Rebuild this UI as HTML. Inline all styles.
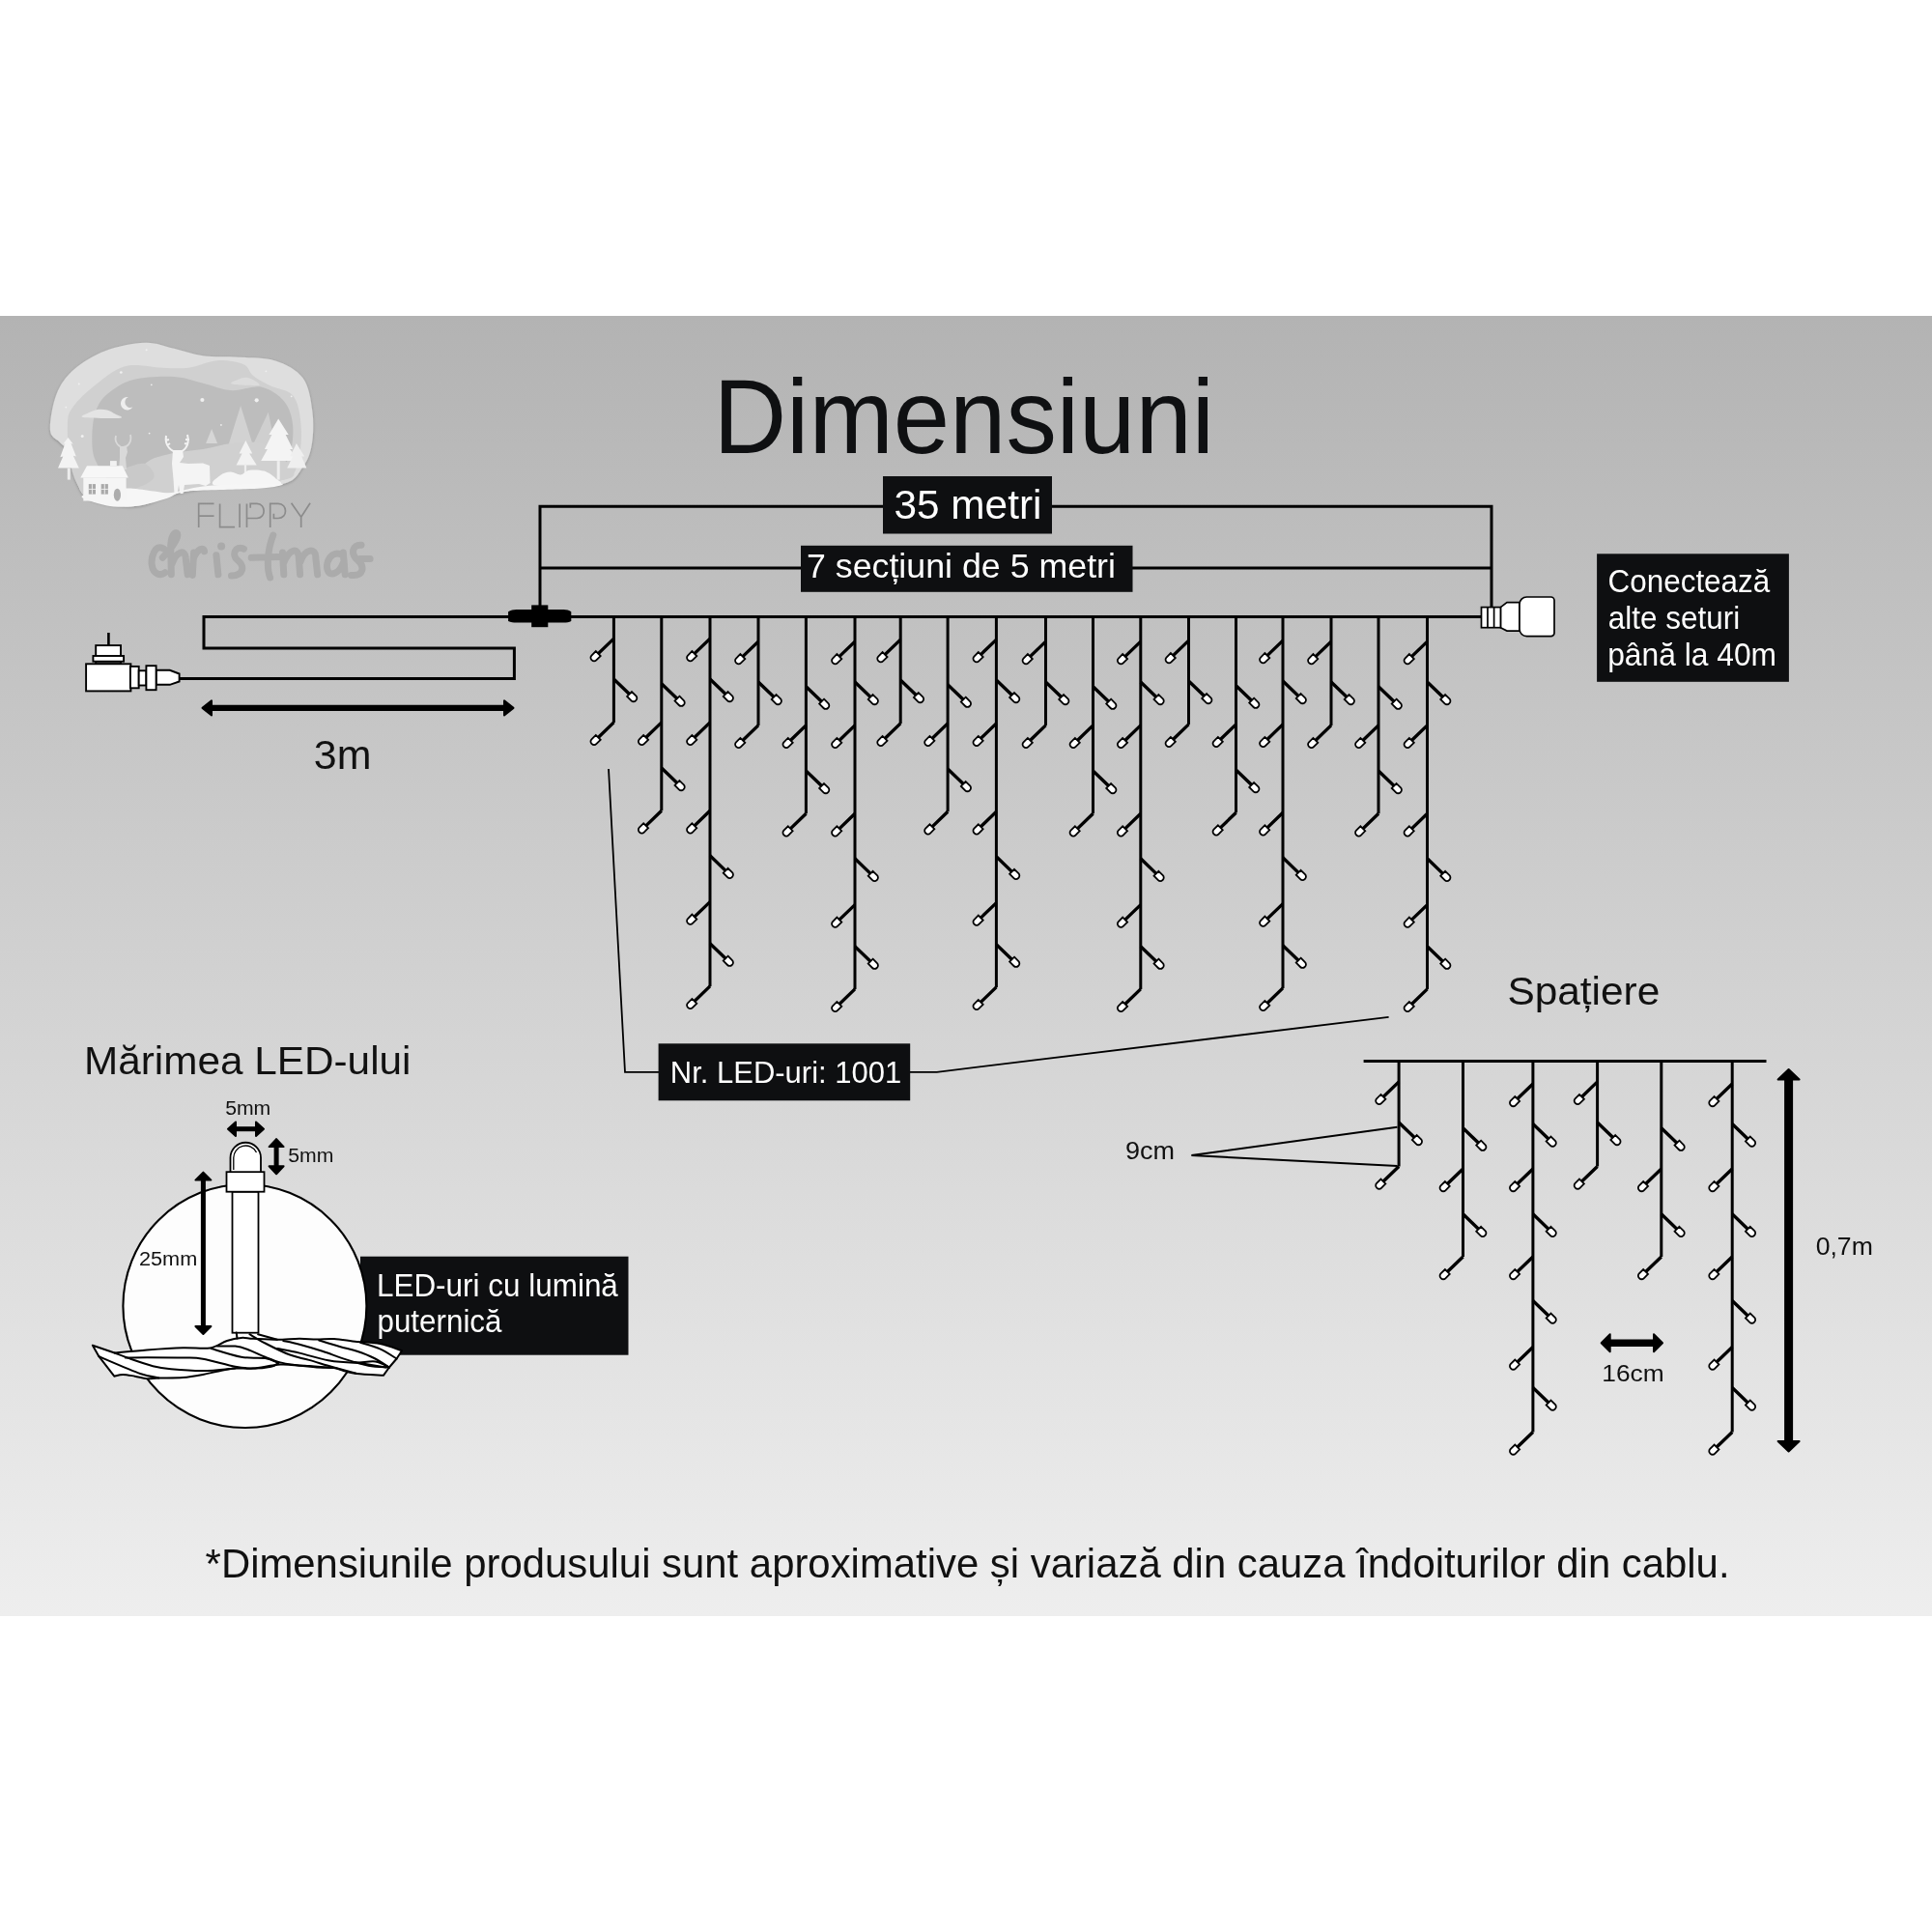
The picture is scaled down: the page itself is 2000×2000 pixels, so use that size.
<!DOCTYPE html>
<html><head><meta charset="utf-8"><style>
html,body{margin:0;padding:0;background:#fff;}
svg{display:block;will-change:transform;}
text{font-family:"Liberation Sans",sans-serif;}
</style></head><body>
<svg width="2000" height="2000" viewBox="0 0 2000 2000">
<rect x="0" y="0" width="2000" height="2000" fill="#fff"/>
<defs><linearGradient id="bg" x1="0" y1="0" x2="0" y2="1"><stop offset="0" stop-color="#b3b3b3"/><stop offset="0.5" stop-color="#d1d1d1"/><stop offset="1" stop-color="#eeeeee"/></linearGradient><filter id="lsh" x="-10%" y="-10%" width="120%" height="120%"><feDropShadow dx="0" dy="1" stdDeviation="1.5" flood-color="#000" flood-opacity="0.25"/></filter></defs>
<rect x="0" y="327" width="2000" height="1346" fill="url(#bg)"/>
<g filter="url(#lsh)">
<path d="M51.9,445.0 C51.4,436.7 54.4,418.5 58.5,408.0 C62.6,397.6 68.0,390.0 76.5,382.5 C85.0,375.0 97.3,367.6 109.5,363.0 C121.8,358.4 138.3,355.1 150.1,354.8 C161.8,354.4 170.1,358.5 180.1,360.8 C190.1,363.0 198.9,366.8 210.1,368.3 C221.4,369.8 235.1,368.9 247.6,369.8 C260.2,370.6 274.2,369.9 285.2,373.5 C296.2,377.1 307.3,382.8 313.7,391.5 C320.1,400.3 321.9,414.5 323.4,426.1 C324.9,437.6 324.3,451.1 322.7,460.6 C321.1,470.1 318.7,476.3 313.7,483.1 C308.7,489.9 307.4,497.6 292.7,501.1 C277.9,504.6 243.9,502.4 225.1,504.1 C206.4,505.9 193.1,508.5 180.1,511.6 C167.1,514.7 157.6,521.0 147.1,522.9 C136.6,524.8 126.6,524.3 117.1,523.0 C107.5,521.7 96.2,518.7 90.0,515.1 C83.9,511.4 82.5,506.0 80.0,501.0 C77.5,496.0 76.5,490.7 75.0,485.0 C73.5,479.4 73.2,471.6 71.0,467.0 C68.7,462.5 64.7,461.3 61.5,457.6 C58.3,453.9 52.4,453.2 51.9,445.0 Z" fill="#dedede" />
<path d="M69.9,440.0 C70.3,431.4 70.2,429.4 74.3,423.1 C78.4,416.7 85.4,409.3 94.5,402.0 C103.7,394.7 116.8,382.8 129.1,379.2 C141.3,375.7 157.1,380.5 168.1,380.7 C179.1,381.0 185.6,382.0 195.1,380.7 C204.6,379.5 215.6,373.8 225.1,373.2 C234.6,372.6 246.0,374.7 252.1,377.3 C258.3,379.9 257.4,385.2 261.9,388.8 C266.4,392.5 272.3,395.6 279.2,399.0 C286.0,402.5 297.8,403.0 303.2,409.5 C308.6,416.0 310.4,427.3 311.4,438.1 C312.4,448.8 312.1,464.3 309.2,474.1 C306.3,483.8 308.2,491.9 294.2,496.6 C280.2,501.4 244.6,500.4 225.1,502.6 C205.6,504.9 192.1,508.4 177.1,510.1 C162.1,511.9 148.7,512.0 135.1,513.1 C121.4,514.3 104.2,519.0 95.0,517.0 C85.8,515.0 83.8,508.0 80.0,501.0 C76.1,494.0 73.7,485.1 72.0,475.0 C70.3,464.8 69.5,448.7 69.9,440.0 Z" fill="#d0d0d0" />
<path d="M95.3,453.1 C95.3,444.6 96.4,433.6 99.0,426.1 C101.7,418.6 104.5,413.5 111.0,408.0 C117.6,402.5 126.6,396.0 138.1,393.0 C149.6,390.0 168.1,389.4 180.1,390.0 C192.1,390.7 200.1,394.4 210.1,396.8 C220.1,399.2 230.1,403.7 240.1,404.3 C250.1,404.9 261.2,398.7 270.2,400.5 C279.2,402.4 288.7,408.8 294.2,415.5 C299.7,422.3 302.4,431.3 303.2,441.1 C303.9,450.8 302.7,465.1 298.7,474.1 C294.7,483.1 292.7,490.6 279.2,495.1 C265.7,499.6 236.6,499.6 217.6,501.1 C198.6,502.6 181.8,504.6 165.1,504.1 C148.3,503.6 128.1,502.6 117.1,498.1 C106.0,493.6 102.7,484.6 99.0,477.1 C95.4,469.6 95.3,461.6 95.3,453.1 Z" fill="#bdbdbd" />
</g>
<path d="M86.3,432.1 C81.0,431.1 90.4,428.2 93.0,426.8 C95.7,425.4 99.0,424.2 102.0,423.8 C105.0,423.4 108.3,423.8 111.0,424.6 C113.8,425.3 116.3,426.9 118.6,428.3 C120.8,429.7 129.9,432.2 124.6,432.8 C119.2,433.4 91.5,433.1 86.3,432.1 Z" fill="#e4e4e4" />
<path d="M240.1,397.5 C236.6,396.5 243.6,394.2 246.1,393.0 C248.6,391.9 252.1,390.5 255.1,390.8 C258.1,391.0 262.2,393.2 264.2,394.5 C266.2,395.9 271.2,398.5 267.2,399.0 C263.2,399.5 243.6,398.5 240.1,397.5 Z" fill="#dcdcdc" />
<path d="M132.8,411.0 A6.8,6.8 0 1 0 137.3,421.6 A5.7,5.7 0 1 1 132.8,411.0 Z" fill="#eeeeee"/>
<polygon points="235.6,463.6 249.1,420.1 262.7,463.6" fill="#d2d2d2" />
<polygon points="261.2,462.1 277.7,426.8 285.2,462.1" fill="#cfcfcf" />
<polygon points="213.1,459.1 219.1,444.1 225.1,459.1" fill="#d6d6d6" />
<path d="M129.1,510.1 C124.6,505.1 142.1,486.8 150.1,480.1 C158.1,473.3 167.1,472.1 177.1,469.6 C187.1,467.1 199.6,466.8 210.1,465.1 C220.6,463.3 230.1,460.1 240.1,459.1 C250.1,458.1 261.4,456.6 270.2,459.1 C278.9,461.6 287.7,468.1 292.7,474.1 C297.7,480.1 311.4,490.4 300.2,495.1 C288.9,499.9 245.6,500.1 225.1,502.6 C204.6,505.1 193.1,508.9 177.1,510.1 C161.1,511.4 133.6,515.1 129.1,510.1 Z" fill="#d0d0d0" />
<path d="M112.5,489.1 C114.8,485.8 122.8,486.1 129.1,484.6 C135.3,483.1 145.1,478.3 150.1,480.1 C155.1,481.8 161.6,490.6 159.1,495.1 C156.6,499.6 142.3,505.6 135.1,507.1 C127.8,508.6 119.3,507.1 115.5,504.1 C111.8,501.1 110.3,492.4 112.5,489.1 Z" fill="#c9c9c9" />
<path d="M120,451 C118,459 124,463 127.5,463 C131,463 137,459 135,450" fill="none" stroke="#d9d9d9" stroke-width="1.8"/>
<polygon points="124,462 131,462 132,468 130,474 131,486 123,486 124,474" fill="#d9d9d9"/>
<polygon points="60.0,484.6 65.3,472.6 62.3,473.3 67.5,459.1 65.3,459.8 70.5,453.1 75.8,459.8 73.5,459.1 78.8,472.6 75.8,471.8 81.8,484.6" fill="#f3f3f3" />
<polygon points="69.8,484.6 72.8,484.6 72.8,496.6 69.8,496.6" fill="#ececec" />
<polygon points="270.2,477.1 276.9,465.1 273.9,465.1 281.4,450.1 278.4,450.1 288.2,433.6 298.7,450.1 295.7,450.1 303.2,465.1 300.2,465.1 309.2,477.1" fill="#f4f4f4" />
<polygon points="244.6,481.6 250.6,469.6 247.6,469.6 254.4,456.1 261.2,469.6 258.1,469.6 265.7,481.6" fill="#f2f2f2" />
<polygon points="297.2,484.6 303.2,472.6 300.2,472.6 306.9,459.1 315.2,472.6 312.2,472.6 317.4,484.6" fill="#efefef" />
<polygon points="286.7,477.1 289.7,477.1 289.7,496.6 286.7,496.6" fill="#eeeeee" />
<polygon points="252.9,480.1 255.1,480.1 255.1,495.1 252.9,495.1" fill="#eeeeee" />
<path d="M223.6,502.6 C213.9,500.9 225.6,494.5 228.1,492.1 C230.6,489.7 235.1,488.5 238.6,488.4 C242.1,488.2 245.9,491.6 249.1,491.4 C252.4,491.1 254.1,487.5 258.1,486.8 C262.2,486.2 268.7,486.2 273.2,487.6 C277.7,489.0 282.9,492.6 285.2,495.1 C287.4,497.6 296.9,501.4 286.7,502.6 C276.4,503.9 233.4,504.4 223.6,502.6 Z" fill="#f5f5f5" />
<path d="M172,451 C170,462 178,468 184,468 C190,468 197,462 194,450 M171,456 L175,455 M196,455 L192,455 M173,461 L176,459 M195,460 L191,459" fill="none" stroke="#f3f3f3" stroke-width="2"/>
<polygon points="179,466 189,466 190,473 186,479 195,480 210,479.5 217,482 217.5,500 213,503 206,501 191,502 189.5,511 186.5,511 185,502 183.5,511 180.5,511 179.5,496 178,480" fill="#f4f4f4"/>
<path d="M85.5,513.1 C89.3,511.1 108.8,508.4 117.1,507.1 C125.3,505.9 128.1,505.4 135.1,505.6 C142.1,505.9 152.1,507.9 159.1,508.6 C166.1,509.4 168.6,511.0 177.1,510.1 C185.6,509.2 195.9,504.9 210.1,503.4 C224.4,501.9 248.9,501.5 262.7,501.1 C276.4,500.7 291.4,500.4 292.7,501.1 C293.9,501.9 286.4,504.4 270.2,505.6 C253.9,506.9 211.4,506.9 195.1,508.6 C178.8,510.4 181.1,513.6 172.6,516.1 C164.1,518.6 153.3,522.2 144.1,523.6 C134.8,525.0 125.3,525.1 117.1,524.4 C108.8,523.6 99.8,521.0 94.5,519.1 C89.3,517.2 81.8,515.1 85.5,513.1 Z" fill="#f6f6f6" />
<polygon points="83.3,494.4 90.0,482.3 126.8,482.3 132.8,494.4" fill="#f7f7f7" />
<polygon points="86.3,494.4 130.6,494.4 130.6,518.4 86.3,518.4" fill="#f5f5f5" />
<polygon points="114.0,477.1 120.8,477.1 120.8,482.3 114.0,482.3" fill="#f2f2f2" />
<polygon points="91.8,501.1 99.0,501.1 99.0,511.6 91.8,511.6" fill="#a9a9a9" />
<path d="M95.4,501.1 V511.6 M91.8,506.4 H99.0" stroke="#f3f3f3" stroke-width="0.9"/>
<polygon points="104.7,501.1 111.9,501.1 111.9,511.6 104.7,511.6" fill="#a9a9a9" />
<path d="M108.3,501.1 V511.6 M104.7,506.4 H111.9" stroke="#f3f3f3" stroke-width="0.9"/>
<ellipse cx="121.4" cy="512.2" rx="3.6" ry="6.5" fill="#acacac"/>
<circle cx="151.6" cy="362.3" r="1.05" fill="#f0f0f0"/>
<circle cx="125.3" cy="385.5" r="1.35" fill="#f0f0f0"/>
<circle cx="81.8" cy="397.5" r="0.90" fill="#f0f0f0"/>
<circle cx="156.8" cy="398.3" r="0.90" fill="#f0f0f0"/>
<circle cx="68.3" cy="421.6" r="0.90" fill="#f0f0f0"/>
<circle cx="209.4" cy="414.0" r="2.10" fill="#f0f0f0"/>
<circle cx="265.7" cy="414.3" r="2.10" fill="#f0f0f0"/>
<circle cx="275.4" cy="384.3" r="0.90" fill="#f0f0f0"/>
<circle cx="301.7" cy="410.3" r="0.90" fill="#f0f0f0"/>
<circle cx="228.9" cy="439.9" r="0.90" fill="#f0f0f0"/>
<circle cx="154.6" cy="448.6" r="0.90" fill="#f0f0f0"/>
<circle cx="85.2" cy="451.6" r="1.50" fill="#f0f0f0"/>
<path d="M169.6,568.2 C160.5,561.8 156.0,577.3 157.3,585.1 C158.6,594.1 165.7,596.7 170.9,592.8 M168.3,577.3 C174.8,570.8 183.8,559.2 183.8,554.0 C183.8,548.8 177.3,551.4 176.7,564.3 L177.3,594.8 M178.0,583.8 C182.5,570.8 191.6,568.2 192.2,577.3 L194.2,594.8 M200.6,572.1 L199.3,595.4 M200.6,577.3 C204.5,568.2 211.0,565.6 211.6,570.8 M223.9,574.7 L225.9,594.8 M252.4,568.2 C243.3,564.3 239.5,574.7 245.9,579.9 C253.7,586.3 252.4,595.4 239.5,596.1 M282.8,554.0 C277.0,568.2 275.7,587.6 279.6,598.0 M260.2,577.3 L288.6,576.6 M292.5,572.1 L293.8,594.8 M293.8,582.5 C300.3,566.9 309.3,566.9 309.3,577.3 L310.6,594.8 M310.6,582.5 C315.8,566.9 327.5,566.9 326.8,577.3 L328.7,594.8 M354.6,574.7 C343.0,568.2 336.5,582.5 339.1,590.2 C341.7,598.0 352.0,592.8 355.3,582.5 M355.3,572.1 L357.2,594.8 M374.0,564.3 C365.0,563.1 362.4,573.4 370.2,579.9 C377.9,586.3 376.6,596.7 363.7,595.4 M372.7,578.6 L383.1,578.6" fill="none" stroke="#ababab" stroke-width="7" stroke-linecap="round" stroke-linejoin="round"/><circle cx="229.1" cy="565.6" r="4" fill="#aaaaaa"/><path d="M205.7,546 V521.4 H221.5 M205.7,534.2 H221.5 M227.6,521.4 V545.6 H243.1 M248.1,521.4 V546 M255.5,546 V521.4 M259.2,525.8 V521.4 H266 C275.5,521.4 275.5,536.5 266,536.5 H255.5 M279.7,546 V521.4 H288 C298,521.4 298,536.5 288,536.5 H283.4 V531.8 M301.6,520.7 L311.7,535.2 L321.1,520.7 M311.7,535.2 V546" fill="none" stroke="#8c8c8c" stroke-width="1.7"/>
<text transform="translate(747.00,468.80) scale(0.9594,1)" x="-8.97" y="0" font-size="109.30" fill="#0f1012">Dimensiuni</text>
<path d="M559,638 V524.3 H1544 V638" fill="none" stroke="#000" stroke-width="3" />
<path d="M559,588 H1544" fill="none" stroke="#000" stroke-width="3" />
<rect x="914" y="493" width="175" height="59.5" fill="#0e0f11"/>
<text transform="translate(927.10,536.80) scale(1.0116,1)" x="-1.59" y="0" font-size="41.86" fill="#fff">35 metri</text>
<rect x="829" y="564.8" width="343.5" height="48" fill="#0e0f11"/>
<text transform="translate(836.80,598.30) scale(1.0126,1)" x="-1.81" y="0" font-size="35.32" fill="#fff">7 secțiuni de 5 metri</text>
<path d="M185,702.5 H532.4 V671 H211 V638.5 H1535" fill="none" stroke="#000" stroke-width="3" stroke-linejoin="miter"/>
<path d="M526.1,633.2 C529,632 531,631.1 534.8,631.1 H583.2 C587,631.1 589,632 591.3,633.2 V642.9 C589,644 587,644.4 583.2,644.4 H534.8 C531,644.4 529,644 526.1,642.9 Z" fill="#000" stroke="none" stroke-width="0" />
<rect x="550.2" y="626.4" width="17.1" height="22.8" fill="#000"/>
<g fill="#fff" stroke="#000" stroke-width="1.7"><path d="M1553.4,628.6 L1560,623.6 H1573 V653.1 H1560 L1553.4,649.7 Z"/><path d="M1580.5,618 H1605.5 A3.5,3.5 0 0 1 1609,621.5 V655.2 A3.5,3.5 0 0 1 1605.5,658.7 H1580.5 A7.5,7.5 0 0 1 1573,651.2 V625.5 A7.5,7.5 0 0 1 1580.5,618 Z"/><rect x="1533.5" y="628.6" width="19.9" height="21.1"/><path d="M1540,628.6 V649.7 M1546.6,628.6 V649.7"/></g>
<g fill="#fff" stroke="#000" stroke-width="1.9"><path d="M112.4,655 V668" stroke-width="2.6"/><rect x="99.2" y="668.1" width="25.8" height="11.9"/><rect x="99.2" y="684.7" width="25.8" height="2.6"/><rect x="96.4" y="679" width="31.7" height="5.7"/><rect x="89.1" y="687.3" width="46.3" height="28.1"/><rect x="134.9" y="689.9" width="8.8" height="22.4"/><rect x="143.7" y="694.3" width="7.7" height="15.2"/><path d="M161.6,693.8 H175.8 L185.6,697.5 V705.5 L175.8,708.8 H161.6 Z"/><rect x="151.4" y="689.2" width="10.2" height="25"/></g>
<path d="M218.0,732.9 H523.0" fill="none" stroke="#000" stroke-width="6.2" />
<path d="M531.5,732.9 L522.0,725.4 L522.0,740.4 Z" fill="#000" stroke="#000" stroke-width="2" stroke-linejoin="round"/>
<path d="M209.5,732.9 L219.0,725.4 L219.0,740.4 Z" fill="#000" stroke="#000" stroke-width="2" stroke-linejoin="round"/>
<text transform="translate(326.40,795.90) scale(1.0120,1)" x="-1.62" y="0" font-size="42.44" fill="#111">3m</text>
<path d="M1411.6,1098.5 H1828.5" fill="none" stroke="#000" stroke-width="2.8" />
<path d="M635.40,747.90 L615.90,766.70 M635.40,661.10 L615.90,679.90 M635.40,703.00 L654.90,721.80 M684.80,839.30 L665.30,858.10 M684.80,707.70 L704.30,726.50 M684.80,747.90 L665.30,766.70 M684.80,795.00 L704.30,813.80 M735.00,1020.90 L715.50,1039.70 M735.00,661.10 L715.50,679.90 M735.00,703.00 L754.50,721.80 M735.00,747.90 L715.50,766.70 M735.00,839.30 L715.50,858.10 M735.00,885.80 L754.50,904.60 M735.00,933.60 L715.50,952.40 M735.00,976.70 L754.50,995.50 M785.00,750.90 L765.50,769.70 M785.00,664.10 L765.50,682.90 M785.00,706.00 L804.50,724.80 M834.40,842.30 L814.90,861.10 M834.40,710.70 L853.90,729.50 M834.40,750.90 L814.90,769.70 M834.40,798.00 L853.90,816.80 M885.00,1023.90 L865.50,1042.70 M885.00,664.10 L865.50,682.90 M885.00,706.00 L904.50,724.80 M885.00,750.90 L865.50,769.70 M885.00,842.30 L865.50,861.10 M885.00,888.80 L904.50,907.60 M885.00,936.60 L865.50,955.40 M885.00,979.70 L904.50,998.50 M932.20,748.90 L912.70,767.70 M932.20,662.10 L912.70,680.90 M932.20,704.00 L951.70,722.80 M981.10,840.30 L961.60,859.10 M981.10,708.70 L1000.60,727.50 M981.10,748.90 L961.60,767.70 M981.10,796.00 L1000.60,814.80 M1031.40,1021.90 L1011.90,1040.70 M1031.40,662.10 L1011.90,680.90 M1031.40,704.00 L1050.90,722.80 M1031.40,748.90 L1011.90,767.70 M1031.40,840.30 L1011.90,859.10 M1031.40,886.80 L1050.90,905.60 M1031.40,934.60 L1011.90,953.40 M1031.40,977.70 L1050.90,996.50 M1082.50,750.90 L1063.00,769.70 M1082.50,664.10 L1063.00,682.90 M1082.50,706.00 L1102.00,724.80 M1131.50,842.30 L1112.00,861.10 M1131.50,710.70 L1151.00,729.50 M1131.50,750.90 L1112.00,769.70 M1131.50,798.00 L1151.00,816.80 M1180.80,1023.90 L1161.30,1042.70 M1180.80,664.10 L1161.30,682.90 M1180.80,706.00 L1200.30,724.80 M1180.80,750.90 L1161.30,769.70 M1180.80,842.30 L1161.30,861.10 M1180.80,888.80 L1200.30,907.60 M1180.80,936.60 L1161.30,955.40 M1180.80,979.70 L1200.30,998.50 M1230.50,749.90 L1211.00,768.70 M1230.50,663.10 L1211.00,681.90 M1230.50,705.00 L1250.00,723.80 M1279.50,841.30 L1260.00,860.10 M1279.50,709.70 L1299.00,728.50 M1279.50,749.90 L1260.00,768.70 M1279.50,797.00 L1299.00,815.80 M1328.00,1022.90 L1308.50,1041.70 M1328.00,663.10 L1308.50,681.90 M1328.00,705.00 L1347.50,723.80 M1328.00,749.90 L1308.50,768.70 M1328.00,841.30 L1308.50,860.10 M1328.00,887.80 L1347.50,906.60 M1328.00,935.60 L1308.50,954.40 M1328.00,978.70 L1347.50,997.50 M1378.00,750.90 L1358.50,769.70 M1378.00,664.10 L1358.50,682.90 M1378.00,706.00 L1397.50,724.80 M1427.00,842.30 L1407.50,861.10 M1427.00,710.70 L1446.50,729.50 M1427.00,750.90 L1407.50,769.70 M1427.00,798.00 L1446.50,816.80 M1477.50,1023.90 L1458.00,1042.70 M1477.50,664.10 L1458.00,682.90 M1477.50,706.00 L1497.00,724.80 M1477.50,750.90 L1458.00,769.70 M1477.50,842.30 L1458.00,861.10 M1477.50,888.80 L1497.00,907.60 M1477.50,936.60 L1458.00,955.40 M1477.50,979.70 L1497.00,998.50 M1448.10,1207.50 L1428.60,1226.30 M1448.10,1119.90 L1428.60,1138.70 M1448.10,1162.00 L1467.60,1180.80 M1514.50,1301.00 L1495.00,1319.80 M1514.50,1167.70 L1534.00,1186.50 M1514.50,1210.00 L1495.00,1228.80 M1514.50,1256.80 L1534.00,1275.60 M1586.90,1482.50 L1567.40,1501.30 M1586.90,1122.00 L1567.40,1140.80 M1586.90,1163.50 L1606.40,1182.30 M1586.90,1210.00 L1567.40,1228.80 M1586.90,1256.80 L1606.40,1275.60 M1586.90,1301.00 L1567.40,1319.80 M1586.90,1346.50 L1606.40,1365.30 M1586.90,1394.50 L1567.40,1413.30 M1586.90,1436.50 L1606.40,1455.30 M1653.60,1207.50 L1634.10,1226.30 M1653.60,1119.90 L1634.10,1138.70 M1653.60,1162.00 L1673.10,1180.80 M1719.80,1301.00 L1700.30,1319.80 M1719.80,1167.70 L1739.30,1186.50 M1719.80,1210.00 L1700.30,1228.80 M1719.80,1256.80 L1739.30,1275.60 M1793.20,1482.50 L1773.70,1501.30 M1793.20,1122.00 L1773.70,1140.80 M1793.20,1163.50 L1812.70,1182.30 M1793.20,1210.00 L1773.70,1228.80 M1793.20,1256.80 L1812.70,1275.60 M1793.20,1301.00 L1773.70,1319.80 M1793.20,1346.50 L1812.70,1365.30 M1793.20,1394.50 L1773.70,1413.30 M1793.20,1436.50 L1812.70,1455.30" fill="none" stroke="#000" stroke-width="3.4" stroke-linecap="butt"/>
<path d="M635.40,638.50 V747.90 M684.80,638.50 V839.30 M735.00,638.50 V1020.90 M785.00,638.50 V750.90 M834.40,638.50 V842.30 M885.00,638.50 V1023.90 M932.20,638.50 V748.90 M981.10,638.50 V840.30 M1031.40,638.50 V1021.90 M1082.50,638.50 V750.90 M1131.50,638.50 V842.30 M1180.80,638.50 V1023.90 M1230.50,638.50 V749.90 M1279.50,638.50 V841.30 M1328.00,638.50 V1022.90 M1378.00,638.50 V750.90 M1427.00,638.50 V842.30 M1477.50,638.50 V1023.90 M1448.10,1098.50 V1207.50 M1514.50,1098.50 V1301.00 M1586.90,1098.50 V1482.50 M1653.60,1098.50 V1207.50 M1719.80,1098.50 V1301.00 M1793.20,1098.50 V1482.50" fill="none" stroke="#000" stroke-width="3.0"/>
<g fill="#fff" stroke="#000" stroke-width="1.8"><path transform="translate(615.90,766.70) rotate(135)" d="M-4.7,-3.45 H1.5 A3.2,3.2 0 0 1 4.7,-0.25 V0.25 A3.2,3.2 0 0 1 1.5,3.45 H-4.7 Z"/><path transform="translate(615.90,679.90) rotate(135)" d="M-4.7,-3.45 H1.5 A3.2,3.2 0 0 1 4.7,-0.25 V0.25 A3.2,3.2 0 0 1 1.5,3.45 H-4.7 Z"/><path transform="translate(654.90,721.80) rotate(45)" d="M-4.7,-3.45 H1.5 A3.2,3.2 0 0 1 4.7,-0.25 V0.25 A3.2,3.2 0 0 1 1.5,3.45 H-4.7 Z"/><path transform="translate(665.30,858.10) rotate(135)" d="M-4.7,-3.45 H1.5 A3.2,3.2 0 0 1 4.7,-0.25 V0.25 A3.2,3.2 0 0 1 1.5,3.45 H-4.7 Z"/><path transform="translate(704.30,726.50) rotate(45)" d="M-4.7,-3.45 H1.5 A3.2,3.2 0 0 1 4.7,-0.25 V0.25 A3.2,3.2 0 0 1 1.5,3.45 H-4.7 Z"/><path transform="translate(665.30,766.70) rotate(135)" d="M-4.7,-3.45 H1.5 A3.2,3.2 0 0 1 4.7,-0.25 V0.25 A3.2,3.2 0 0 1 1.5,3.45 H-4.7 Z"/><path transform="translate(704.30,813.80) rotate(45)" d="M-4.7,-3.45 H1.5 A3.2,3.2 0 0 1 4.7,-0.25 V0.25 A3.2,3.2 0 0 1 1.5,3.45 H-4.7 Z"/><path transform="translate(715.50,1039.70) rotate(135)" d="M-4.7,-3.45 H1.5 A3.2,3.2 0 0 1 4.7,-0.25 V0.25 A3.2,3.2 0 0 1 1.5,3.45 H-4.7 Z"/><path transform="translate(715.50,679.90) rotate(135)" d="M-4.7,-3.45 H1.5 A3.2,3.2 0 0 1 4.7,-0.25 V0.25 A3.2,3.2 0 0 1 1.5,3.45 H-4.7 Z"/><path transform="translate(754.50,721.80) rotate(45)" d="M-4.7,-3.45 H1.5 A3.2,3.2 0 0 1 4.7,-0.25 V0.25 A3.2,3.2 0 0 1 1.5,3.45 H-4.7 Z"/><path transform="translate(715.50,766.70) rotate(135)" d="M-4.7,-3.45 H1.5 A3.2,3.2 0 0 1 4.7,-0.25 V0.25 A3.2,3.2 0 0 1 1.5,3.45 H-4.7 Z"/><path transform="translate(715.50,858.10) rotate(135)" d="M-4.7,-3.45 H1.5 A3.2,3.2 0 0 1 4.7,-0.25 V0.25 A3.2,3.2 0 0 1 1.5,3.45 H-4.7 Z"/><path transform="translate(754.50,904.60) rotate(45)" d="M-4.7,-3.45 H1.5 A3.2,3.2 0 0 1 4.7,-0.25 V0.25 A3.2,3.2 0 0 1 1.5,3.45 H-4.7 Z"/><path transform="translate(715.50,952.40) rotate(135)" d="M-4.7,-3.45 H1.5 A3.2,3.2 0 0 1 4.7,-0.25 V0.25 A3.2,3.2 0 0 1 1.5,3.45 H-4.7 Z"/><path transform="translate(754.50,995.50) rotate(45)" d="M-4.7,-3.45 H1.5 A3.2,3.2 0 0 1 4.7,-0.25 V0.25 A3.2,3.2 0 0 1 1.5,3.45 H-4.7 Z"/><path transform="translate(765.50,769.70) rotate(135)" d="M-4.7,-3.45 H1.5 A3.2,3.2 0 0 1 4.7,-0.25 V0.25 A3.2,3.2 0 0 1 1.5,3.45 H-4.7 Z"/><path transform="translate(765.50,682.90) rotate(135)" d="M-4.7,-3.45 H1.5 A3.2,3.2 0 0 1 4.7,-0.25 V0.25 A3.2,3.2 0 0 1 1.5,3.45 H-4.7 Z"/><path transform="translate(804.50,724.80) rotate(45)" d="M-4.7,-3.45 H1.5 A3.2,3.2 0 0 1 4.7,-0.25 V0.25 A3.2,3.2 0 0 1 1.5,3.45 H-4.7 Z"/><path transform="translate(814.90,861.10) rotate(135)" d="M-4.7,-3.45 H1.5 A3.2,3.2 0 0 1 4.7,-0.25 V0.25 A3.2,3.2 0 0 1 1.5,3.45 H-4.7 Z"/><path transform="translate(853.90,729.50) rotate(45)" d="M-4.7,-3.45 H1.5 A3.2,3.2 0 0 1 4.7,-0.25 V0.25 A3.2,3.2 0 0 1 1.5,3.45 H-4.7 Z"/><path transform="translate(814.90,769.70) rotate(135)" d="M-4.7,-3.45 H1.5 A3.2,3.2 0 0 1 4.7,-0.25 V0.25 A3.2,3.2 0 0 1 1.5,3.45 H-4.7 Z"/><path transform="translate(853.90,816.80) rotate(45)" d="M-4.7,-3.45 H1.5 A3.2,3.2 0 0 1 4.7,-0.25 V0.25 A3.2,3.2 0 0 1 1.5,3.45 H-4.7 Z"/><path transform="translate(865.50,1042.70) rotate(135)" d="M-4.7,-3.45 H1.5 A3.2,3.2 0 0 1 4.7,-0.25 V0.25 A3.2,3.2 0 0 1 1.5,3.45 H-4.7 Z"/><path transform="translate(865.50,682.90) rotate(135)" d="M-4.7,-3.45 H1.5 A3.2,3.2 0 0 1 4.7,-0.25 V0.25 A3.2,3.2 0 0 1 1.5,3.45 H-4.7 Z"/><path transform="translate(904.50,724.80) rotate(45)" d="M-4.7,-3.45 H1.5 A3.2,3.2 0 0 1 4.7,-0.25 V0.25 A3.2,3.2 0 0 1 1.5,3.45 H-4.7 Z"/><path transform="translate(865.50,769.70) rotate(135)" d="M-4.7,-3.45 H1.5 A3.2,3.2 0 0 1 4.7,-0.25 V0.25 A3.2,3.2 0 0 1 1.5,3.45 H-4.7 Z"/><path transform="translate(865.50,861.10) rotate(135)" d="M-4.7,-3.45 H1.5 A3.2,3.2 0 0 1 4.7,-0.25 V0.25 A3.2,3.2 0 0 1 1.5,3.45 H-4.7 Z"/><path transform="translate(904.50,907.60) rotate(45)" d="M-4.7,-3.45 H1.5 A3.2,3.2 0 0 1 4.7,-0.25 V0.25 A3.2,3.2 0 0 1 1.5,3.45 H-4.7 Z"/><path transform="translate(865.50,955.40) rotate(135)" d="M-4.7,-3.45 H1.5 A3.2,3.2 0 0 1 4.7,-0.25 V0.25 A3.2,3.2 0 0 1 1.5,3.45 H-4.7 Z"/><path transform="translate(904.50,998.50) rotate(45)" d="M-4.7,-3.45 H1.5 A3.2,3.2 0 0 1 4.7,-0.25 V0.25 A3.2,3.2 0 0 1 1.5,3.45 H-4.7 Z"/><path transform="translate(912.70,767.70) rotate(135)" d="M-4.7,-3.45 H1.5 A3.2,3.2 0 0 1 4.7,-0.25 V0.25 A3.2,3.2 0 0 1 1.5,3.45 H-4.7 Z"/><path transform="translate(912.70,680.90) rotate(135)" d="M-4.7,-3.45 H1.5 A3.2,3.2 0 0 1 4.7,-0.25 V0.25 A3.2,3.2 0 0 1 1.5,3.45 H-4.7 Z"/><path transform="translate(951.70,722.80) rotate(45)" d="M-4.7,-3.45 H1.5 A3.2,3.2 0 0 1 4.7,-0.25 V0.25 A3.2,3.2 0 0 1 1.5,3.45 H-4.7 Z"/><path transform="translate(961.60,859.10) rotate(135)" d="M-4.7,-3.45 H1.5 A3.2,3.2 0 0 1 4.7,-0.25 V0.25 A3.2,3.2 0 0 1 1.5,3.45 H-4.7 Z"/><path transform="translate(1000.60,727.50) rotate(45)" d="M-4.7,-3.45 H1.5 A3.2,3.2 0 0 1 4.7,-0.25 V0.25 A3.2,3.2 0 0 1 1.5,3.45 H-4.7 Z"/><path transform="translate(961.60,767.70) rotate(135)" d="M-4.7,-3.45 H1.5 A3.2,3.2 0 0 1 4.7,-0.25 V0.25 A3.2,3.2 0 0 1 1.5,3.45 H-4.7 Z"/><path transform="translate(1000.60,814.80) rotate(45)" d="M-4.7,-3.45 H1.5 A3.2,3.2 0 0 1 4.7,-0.25 V0.25 A3.2,3.2 0 0 1 1.5,3.45 H-4.7 Z"/><path transform="translate(1011.90,1040.70) rotate(135)" d="M-4.7,-3.45 H1.5 A3.2,3.2 0 0 1 4.7,-0.25 V0.25 A3.2,3.2 0 0 1 1.5,3.45 H-4.7 Z"/><path transform="translate(1011.90,680.90) rotate(135)" d="M-4.7,-3.45 H1.5 A3.2,3.2 0 0 1 4.7,-0.25 V0.25 A3.2,3.2 0 0 1 1.5,3.45 H-4.7 Z"/><path transform="translate(1050.90,722.80) rotate(45)" d="M-4.7,-3.45 H1.5 A3.2,3.2 0 0 1 4.7,-0.25 V0.25 A3.2,3.2 0 0 1 1.5,3.45 H-4.7 Z"/><path transform="translate(1011.90,767.70) rotate(135)" d="M-4.7,-3.45 H1.5 A3.2,3.2 0 0 1 4.7,-0.25 V0.25 A3.2,3.2 0 0 1 1.5,3.45 H-4.7 Z"/><path transform="translate(1011.90,859.10) rotate(135)" d="M-4.7,-3.45 H1.5 A3.2,3.2 0 0 1 4.7,-0.25 V0.25 A3.2,3.2 0 0 1 1.5,3.45 H-4.7 Z"/><path transform="translate(1050.90,905.60) rotate(45)" d="M-4.7,-3.45 H1.5 A3.2,3.2 0 0 1 4.7,-0.25 V0.25 A3.2,3.2 0 0 1 1.5,3.45 H-4.7 Z"/><path transform="translate(1011.90,953.40) rotate(135)" d="M-4.7,-3.45 H1.5 A3.2,3.2 0 0 1 4.7,-0.25 V0.25 A3.2,3.2 0 0 1 1.5,3.45 H-4.7 Z"/><path transform="translate(1050.90,996.50) rotate(45)" d="M-4.7,-3.45 H1.5 A3.2,3.2 0 0 1 4.7,-0.25 V0.25 A3.2,3.2 0 0 1 1.5,3.45 H-4.7 Z"/><path transform="translate(1063.00,769.70) rotate(135)" d="M-4.7,-3.45 H1.5 A3.2,3.2 0 0 1 4.7,-0.25 V0.25 A3.2,3.2 0 0 1 1.5,3.45 H-4.7 Z"/><path transform="translate(1063.00,682.90) rotate(135)" d="M-4.7,-3.45 H1.5 A3.2,3.2 0 0 1 4.7,-0.25 V0.25 A3.2,3.2 0 0 1 1.5,3.45 H-4.7 Z"/><path transform="translate(1102.00,724.80) rotate(45)" d="M-4.7,-3.45 H1.5 A3.2,3.2 0 0 1 4.7,-0.25 V0.25 A3.2,3.2 0 0 1 1.5,3.45 H-4.7 Z"/><path transform="translate(1112.00,861.10) rotate(135)" d="M-4.7,-3.45 H1.5 A3.2,3.2 0 0 1 4.7,-0.25 V0.25 A3.2,3.2 0 0 1 1.5,3.45 H-4.7 Z"/><path transform="translate(1151.00,729.50) rotate(45)" d="M-4.7,-3.45 H1.5 A3.2,3.2 0 0 1 4.7,-0.25 V0.25 A3.2,3.2 0 0 1 1.5,3.45 H-4.7 Z"/><path transform="translate(1112.00,769.70) rotate(135)" d="M-4.7,-3.45 H1.5 A3.2,3.2 0 0 1 4.7,-0.25 V0.25 A3.2,3.2 0 0 1 1.5,3.45 H-4.7 Z"/><path transform="translate(1151.00,816.80) rotate(45)" d="M-4.7,-3.45 H1.5 A3.2,3.2 0 0 1 4.7,-0.25 V0.25 A3.2,3.2 0 0 1 1.5,3.45 H-4.7 Z"/><path transform="translate(1161.30,1042.70) rotate(135)" d="M-4.7,-3.45 H1.5 A3.2,3.2 0 0 1 4.7,-0.25 V0.25 A3.2,3.2 0 0 1 1.5,3.45 H-4.7 Z"/><path transform="translate(1161.30,682.90) rotate(135)" d="M-4.7,-3.45 H1.5 A3.2,3.2 0 0 1 4.7,-0.25 V0.25 A3.2,3.2 0 0 1 1.5,3.45 H-4.7 Z"/><path transform="translate(1200.30,724.80) rotate(45)" d="M-4.7,-3.45 H1.5 A3.2,3.2 0 0 1 4.7,-0.25 V0.25 A3.2,3.2 0 0 1 1.5,3.45 H-4.7 Z"/><path transform="translate(1161.30,769.70) rotate(135)" d="M-4.7,-3.45 H1.5 A3.2,3.2 0 0 1 4.7,-0.25 V0.25 A3.2,3.2 0 0 1 1.5,3.45 H-4.7 Z"/><path transform="translate(1161.30,861.10) rotate(135)" d="M-4.7,-3.45 H1.5 A3.2,3.2 0 0 1 4.7,-0.25 V0.25 A3.2,3.2 0 0 1 1.5,3.45 H-4.7 Z"/><path transform="translate(1200.30,907.60) rotate(45)" d="M-4.7,-3.45 H1.5 A3.2,3.2 0 0 1 4.7,-0.25 V0.25 A3.2,3.2 0 0 1 1.5,3.45 H-4.7 Z"/><path transform="translate(1161.30,955.40) rotate(135)" d="M-4.7,-3.45 H1.5 A3.2,3.2 0 0 1 4.7,-0.25 V0.25 A3.2,3.2 0 0 1 1.5,3.45 H-4.7 Z"/><path transform="translate(1200.30,998.50) rotate(45)" d="M-4.7,-3.45 H1.5 A3.2,3.2 0 0 1 4.7,-0.25 V0.25 A3.2,3.2 0 0 1 1.5,3.45 H-4.7 Z"/><path transform="translate(1211.00,768.70) rotate(135)" d="M-4.7,-3.45 H1.5 A3.2,3.2 0 0 1 4.7,-0.25 V0.25 A3.2,3.2 0 0 1 1.5,3.45 H-4.7 Z"/><path transform="translate(1211.00,681.90) rotate(135)" d="M-4.7,-3.45 H1.5 A3.2,3.2 0 0 1 4.7,-0.25 V0.25 A3.2,3.2 0 0 1 1.5,3.45 H-4.7 Z"/><path transform="translate(1250.00,723.80) rotate(45)" d="M-4.7,-3.45 H1.5 A3.2,3.2 0 0 1 4.7,-0.25 V0.25 A3.2,3.2 0 0 1 1.5,3.45 H-4.7 Z"/><path transform="translate(1260.00,860.10) rotate(135)" d="M-4.7,-3.45 H1.5 A3.2,3.2 0 0 1 4.7,-0.25 V0.25 A3.2,3.2 0 0 1 1.5,3.45 H-4.7 Z"/><path transform="translate(1299.00,728.50) rotate(45)" d="M-4.7,-3.45 H1.5 A3.2,3.2 0 0 1 4.7,-0.25 V0.25 A3.2,3.2 0 0 1 1.5,3.45 H-4.7 Z"/><path transform="translate(1260.00,768.70) rotate(135)" d="M-4.7,-3.45 H1.5 A3.2,3.2 0 0 1 4.7,-0.25 V0.25 A3.2,3.2 0 0 1 1.5,3.45 H-4.7 Z"/><path transform="translate(1299.00,815.80) rotate(45)" d="M-4.7,-3.45 H1.5 A3.2,3.2 0 0 1 4.7,-0.25 V0.25 A3.2,3.2 0 0 1 1.5,3.45 H-4.7 Z"/><path transform="translate(1308.50,1041.70) rotate(135)" d="M-4.7,-3.45 H1.5 A3.2,3.2 0 0 1 4.7,-0.25 V0.25 A3.2,3.2 0 0 1 1.5,3.45 H-4.7 Z"/><path transform="translate(1308.50,681.90) rotate(135)" d="M-4.7,-3.45 H1.5 A3.2,3.2 0 0 1 4.7,-0.25 V0.25 A3.2,3.2 0 0 1 1.5,3.45 H-4.7 Z"/><path transform="translate(1347.50,723.80) rotate(45)" d="M-4.7,-3.45 H1.5 A3.2,3.2 0 0 1 4.7,-0.25 V0.25 A3.2,3.2 0 0 1 1.5,3.45 H-4.7 Z"/><path transform="translate(1308.50,768.70) rotate(135)" d="M-4.7,-3.45 H1.5 A3.2,3.2 0 0 1 4.7,-0.25 V0.25 A3.2,3.2 0 0 1 1.5,3.45 H-4.7 Z"/><path transform="translate(1308.50,860.10) rotate(135)" d="M-4.7,-3.45 H1.5 A3.2,3.2 0 0 1 4.7,-0.25 V0.25 A3.2,3.2 0 0 1 1.5,3.45 H-4.7 Z"/><path transform="translate(1347.50,906.60) rotate(45)" d="M-4.7,-3.45 H1.5 A3.2,3.2 0 0 1 4.7,-0.25 V0.25 A3.2,3.2 0 0 1 1.5,3.45 H-4.7 Z"/><path transform="translate(1308.50,954.40) rotate(135)" d="M-4.7,-3.45 H1.5 A3.2,3.2 0 0 1 4.7,-0.25 V0.25 A3.2,3.2 0 0 1 1.5,3.45 H-4.7 Z"/><path transform="translate(1347.50,997.50) rotate(45)" d="M-4.7,-3.45 H1.5 A3.2,3.2 0 0 1 4.7,-0.25 V0.25 A3.2,3.2 0 0 1 1.5,3.45 H-4.7 Z"/><path transform="translate(1358.50,769.70) rotate(135)" d="M-4.7,-3.45 H1.5 A3.2,3.2 0 0 1 4.7,-0.25 V0.25 A3.2,3.2 0 0 1 1.5,3.45 H-4.7 Z"/><path transform="translate(1358.50,682.90) rotate(135)" d="M-4.7,-3.45 H1.5 A3.2,3.2 0 0 1 4.7,-0.25 V0.25 A3.2,3.2 0 0 1 1.5,3.45 H-4.7 Z"/><path transform="translate(1397.50,724.80) rotate(45)" d="M-4.7,-3.45 H1.5 A3.2,3.2 0 0 1 4.7,-0.25 V0.25 A3.2,3.2 0 0 1 1.5,3.45 H-4.7 Z"/><path transform="translate(1407.50,861.10) rotate(135)" d="M-4.7,-3.45 H1.5 A3.2,3.2 0 0 1 4.7,-0.25 V0.25 A3.2,3.2 0 0 1 1.5,3.45 H-4.7 Z"/><path transform="translate(1446.50,729.50) rotate(45)" d="M-4.7,-3.45 H1.5 A3.2,3.2 0 0 1 4.7,-0.25 V0.25 A3.2,3.2 0 0 1 1.5,3.45 H-4.7 Z"/><path transform="translate(1407.50,769.70) rotate(135)" d="M-4.7,-3.45 H1.5 A3.2,3.2 0 0 1 4.7,-0.25 V0.25 A3.2,3.2 0 0 1 1.5,3.45 H-4.7 Z"/><path transform="translate(1446.50,816.80) rotate(45)" d="M-4.7,-3.45 H1.5 A3.2,3.2 0 0 1 4.7,-0.25 V0.25 A3.2,3.2 0 0 1 1.5,3.45 H-4.7 Z"/><path transform="translate(1458.00,1042.70) rotate(135)" d="M-4.7,-3.45 H1.5 A3.2,3.2 0 0 1 4.7,-0.25 V0.25 A3.2,3.2 0 0 1 1.5,3.45 H-4.7 Z"/><path transform="translate(1458.00,682.90) rotate(135)" d="M-4.7,-3.45 H1.5 A3.2,3.2 0 0 1 4.7,-0.25 V0.25 A3.2,3.2 0 0 1 1.5,3.45 H-4.7 Z"/><path transform="translate(1497.00,724.80) rotate(45)" d="M-4.7,-3.45 H1.5 A3.2,3.2 0 0 1 4.7,-0.25 V0.25 A3.2,3.2 0 0 1 1.5,3.45 H-4.7 Z"/><path transform="translate(1458.00,769.70) rotate(135)" d="M-4.7,-3.45 H1.5 A3.2,3.2 0 0 1 4.7,-0.25 V0.25 A3.2,3.2 0 0 1 1.5,3.45 H-4.7 Z"/><path transform="translate(1458.00,861.10) rotate(135)" d="M-4.7,-3.45 H1.5 A3.2,3.2 0 0 1 4.7,-0.25 V0.25 A3.2,3.2 0 0 1 1.5,3.45 H-4.7 Z"/><path transform="translate(1497.00,907.60) rotate(45)" d="M-4.7,-3.45 H1.5 A3.2,3.2 0 0 1 4.7,-0.25 V0.25 A3.2,3.2 0 0 1 1.5,3.45 H-4.7 Z"/><path transform="translate(1458.00,955.40) rotate(135)" d="M-4.7,-3.45 H1.5 A3.2,3.2 0 0 1 4.7,-0.25 V0.25 A3.2,3.2 0 0 1 1.5,3.45 H-4.7 Z"/><path transform="translate(1497.00,998.50) rotate(45)" d="M-4.7,-3.45 H1.5 A3.2,3.2 0 0 1 4.7,-0.25 V0.25 A3.2,3.2 0 0 1 1.5,3.45 H-4.7 Z"/><path transform="translate(1428.60,1226.30) rotate(135)" d="M-4.7,-3.45 H1.5 A3.2,3.2 0 0 1 4.7,-0.25 V0.25 A3.2,3.2 0 0 1 1.5,3.45 H-4.7 Z"/><path transform="translate(1428.60,1138.70) rotate(135)" d="M-4.7,-3.45 H1.5 A3.2,3.2 0 0 1 4.7,-0.25 V0.25 A3.2,3.2 0 0 1 1.5,3.45 H-4.7 Z"/><path transform="translate(1467.60,1180.80) rotate(45)" d="M-4.7,-3.45 H1.5 A3.2,3.2 0 0 1 4.7,-0.25 V0.25 A3.2,3.2 0 0 1 1.5,3.45 H-4.7 Z"/><path transform="translate(1495.00,1319.80) rotate(135)" d="M-4.7,-3.45 H1.5 A3.2,3.2 0 0 1 4.7,-0.25 V0.25 A3.2,3.2 0 0 1 1.5,3.45 H-4.7 Z"/><path transform="translate(1534.00,1186.50) rotate(45)" d="M-4.7,-3.45 H1.5 A3.2,3.2 0 0 1 4.7,-0.25 V0.25 A3.2,3.2 0 0 1 1.5,3.45 H-4.7 Z"/><path transform="translate(1495.00,1228.80) rotate(135)" d="M-4.7,-3.45 H1.5 A3.2,3.2 0 0 1 4.7,-0.25 V0.25 A3.2,3.2 0 0 1 1.5,3.45 H-4.7 Z"/><path transform="translate(1534.00,1275.60) rotate(45)" d="M-4.7,-3.45 H1.5 A3.2,3.2 0 0 1 4.7,-0.25 V0.25 A3.2,3.2 0 0 1 1.5,3.45 H-4.7 Z"/><path transform="translate(1567.40,1501.30) rotate(135)" d="M-4.7,-3.45 H1.5 A3.2,3.2 0 0 1 4.7,-0.25 V0.25 A3.2,3.2 0 0 1 1.5,3.45 H-4.7 Z"/><path transform="translate(1567.40,1140.80) rotate(135)" d="M-4.7,-3.45 H1.5 A3.2,3.2 0 0 1 4.7,-0.25 V0.25 A3.2,3.2 0 0 1 1.5,3.45 H-4.7 Z"/><path transform="translate(1606.40,1182.30) rotate(45)" d="M-4.7,-3.45 H1.5 A3.2,3.2 0 0 1 4.7,-0.25 V0.25 A3.2,3.2 0 0 1 1.5,3.45 H-4.7 Z"/><path transform="translate(1567.40,1228.80) rotate(135)" d="M-4.7,-3.45 H1.5 A3.2,3.2 0 0 1 4.7,-0.25 V0.25 A3.2,3.2 0 0 1 1.5,3.45 H-4.7 Z"/><path transform="translate(1606.40,1275.60) rotate(45)" d="M-4.7,-3.45 H1.5 A3.2,3.2 0 0 1 4.7,-0.25 V0.25 A3.2,3.2 0 0 1 1.5,3.45 H-4.7 Z"/><path transform="translate(1567.40,1319.80) rotate(135)" d="M-4.7,-3.45 H1.5 A3.2,3.2 0 0 1 4.7,-0.25 V0.25 A3.2,3.2 0 0 1 1.5,3.45 H-4.7 Z"/><path transform="translate(1606.40,1365.30) rotate(45)" d="M-4.7,-3.45 H1.5 A3.2,3.2 0 0 1 4.7,-0.25 V0.25 A3.2,3.2 0 0 1 1.5,3.45 H-4.7 Z"/><path transform="translate(1567.40,1413.30) rotate(135)" d="M-4.7,-3.45 H1.5 A3.2,3.2 0 0 1 4.7,-0.25 V0.25 A3.2,3.2 0 0 1 1.5,3.45 H-4.7 Z"/><path transform="translate(1606.40,1455.30) rotate(45)" d="M-4.7,-3.45 H1.5 A3.2,3.2 0 0 1 4.7,-0.25 V0.25 A3.2,3.2 0 0 1 1.5,3.45 H-4.7 Z"/><path transform="translate(1634.10,1226.30) rotate(135)" d="M-4.7,-3.45 H1.5 A3.2,3.2 0 0 1 4.7,-0.25 V0.25 A3.2,3.2 0 0 1 1.5,3.45 H-4.7 Z"/><path transform="translate(1634.10,1138.70) rotate(135)" d="M-4.7,-3.45 H1.5 A3.2,3.2 0 0 1 4.7,-0.25 V0.25 A3.2,3.2 0 0 1 1.5,3.45 H-4.7 Z"/><path transform="translate(1673.10,1180.80) rotate(45)" d="M-4.7,-3.45 H1.5 A3.2,3.2 0 0 1 4.7,-0.25 V0.25 A3.2,3.2 0 0 1 1.5,3.45 H-4.7 Z"/><path transform="translate(1700.30,1319.80) rotate(135)" d="M-4.7,-3.45 H1.5 A3.2,3.2 0 0 1 4.7,-0.25 V0.25 A3.2,3.2 0 0 1 1.5,3.45 H-4.7 Z"/><path transform="translate(1739.30,1186.50) rotate(45)" d="M-4.7,-3.45 H1.5 A3.2,3.2 0 0 1 4.7,-0.25 V0.25 A3.2,3.2 0 0 1 1.5,3.45 H-4.7 Z"/><path transform="translate(1700.30,1228.80) rotate(135)" d="M-4.7,-3.45 H1.5 A3.2,3.2 0 0 1 4.7,-0.25 V0.25 A3.2,3.2 0 0 1 1.5,3.45 H-4.7 Z"/><path transform="translate(1739.30,1275.60) rotate(45)" d="M-4.7,-3.45 H1.5 A3.2,3.2 0 0 1 4.7,-0.25 V0.25 A3.2,3.2 0 0 1 1.5,3.45 H-4.7 Z"/><path transform="translate(1773.70,1501.30) rotate(135)" d="M-4.7,-3.45 H1.5 A3.2,3.2 0 0 1 4.7,-0.25 V0.25 A3.2,3.2 0 0 1 1.5,3.45 H-4.7 Z"/><path transform="translate(1773.70,1140.80) rotate(135)" d="M-4.7,-3.45 H1.5 A3.2,3.2 0 0 1 4.7,-0.25 V0.25 A3.2,3.2 0 0 1 1.5,3.45 H-4.7 Z"/><path transform="translate(1812.70,1182.30) rotate(45)" d="M-4.7,-3.45 H1.5 A3.2,3.2 0 0 1 4.7,-0.25 V0.25 A3.2,3.2 0 0 1 1.5,3.45 H-4.7 Z"/><path transform="translate(1773.70,1228.80) rotate(135)" d="M-4.7,-3.45 H1.5 A3.2,3.2 0 0 1 4.7,-0.25 V0.25 A3.2,3.2 0 0 1 1.5,3.45 H-4.7 Z"/><path transform="translate(1812.70,1275.60) rotate(45)" d="M-4.7,-3.45 H1.5 A3.2,3.2 0 0 1 4.7,-0.25 V0.25 A3.2,3.2 0 0 1 1.5,3.45 H-4.7 Z"/><path transform="translate(1773.70,1319.80) rotate(135)" d="M-4.7,-3.45 H1.5 A3.2,3.2 0 0 1 4.7,-0.25 V0.25 A3.2,3.2 0 0 1 1.5,3.45 H-4.7 Z"/><path transform="translate(1812.70,1365.30) rotate(45)" d="M-4.7,-3.45 H1.5 A3.2,3.2 0 0 1 4.7,-0.25 V0.25 A3.2,3.2 0 0 1 1.5,3.45 H-4.7 Z"/><path transform="translate(1773.70,1413.30) rotate(135)" d="M-4.7,-3.45 H1.5 A3.2,3.2 0 0 1 4.7,-0.25 V0.25 A3.2,3.2 0 0 1 1.5,3.45 H-4.7 Z"/><path transform="translate(1812.70,1455.30) rotate(45)" d="M-4.7,-3.45 H1.5 A3.2,3.2 0 0 1 4.7,-0.25 V0.25 A3.2,3.2 0 0 1 1.5,3.45 H-4.7 Z"/></g>
<path d="M630,796 L647,1109.8 H682" fill="none" stroke="#000" stroke-width="1.8" />
<path d="M942,1109.8 H969.8 L1437.6,1052.8" fill="none" stroke="#000" stroke-width="1.8" />
<rect x="681.6" y="1080.3" width="260.6" height="59" fill="#0e0f11"/>
<text transform="translate(696.40,1121.00) scale(0.9689,1)" x="-2.62" y="0" font-size="31.98" fill="#fff">Nr. LED-uri: 1001</text>
<rect x="1653.1" y="573.3" width="198.8" height="132.5" fill="#0e0f11"/>
<text transform="translate(1666.20,613.00) scale(0.9566,1)" x="-1.67" y="0" font-size="32.85" fill="#fff">Conectează</text>
<text transform="translate(1666.20,651.00) scale(0.9570,1)" x="-1.40" y="0" font-size="32.85" fill="#fff">alte seturi</text>
<text transform="translate(1666.20,688.60) scale(0.9676,1)" x="-2.12" y="0" font-size="32.85" fill="#fff">până la 40m</text>
<text transform="translate(90.50,1112.00) scale(1.0391,1)" x="-3.34" y="0" font-size="40.70" fill="#111">Mărimea LED-ului</text>
<rect x="373" y="1300.7" width="277.5" height="102" fill="#0e0f11"/>
<circle cx="253.4" cy="1352" r="126" fill="#fdfdfd" stroke="#000" stroke-width="2.1"/>
<text transform="translate(392.50,1342.40) scale(0.9665,1)" x="-2.67" y="0" font-size="32.56" fill="#fff">LED-uri cu lumină</text>
<text transform="translate(392.50,1379.30) scale(0.9633,1)" x="-2.10" y="0" font-size="32.56" fill="#fff">puternică</text>
<g fill="#fff" stroke="#000" stroke-width="1.8"><path d="M238.5,1213.2 V1198.5 A15.75,15.75 0 0 1 270,1198.5 V1213.2" /><rect x="240.5" y="1233.7" width="27" height="146"/><rect x="234.5" y="1213.2" width="39" height="20.5"/></g>
<path d="M241.8,1211 V1199 A12.5,12.5 0 0 1 265.5,1193" fill="none" stroke="#000" stroke-width="1.3" />
<path d="M243,1168.7 H266" fill="none" stroke="#000" stroke-width="5" />
<path d="M273,1168.7 L265,1161.5 L265,1175.9 Z" fill="#000" stroke="#000" stroke-width="2" stroke-linejoin="round"/>
<path d="M236,1168.7 L244,1161.5 L244,1175.9 Z" fill="#000" stroke="#000" stroke-width="2" stroke-linejoin="round"/>
<path d="M286.1,1186.1 V1208.2" fill="none" stroke="#000" stroke-width="5" />
<path d="M286.1,1215.2 L278.6,1207.2 L293.6,1207.2 Z" fill="#000" stroke="#000" stroke-width="2" stroke-linejoin="round"/>
<path d="M286.1,1179.1 L278.6,1187.1 L293.6,1187.1 Z" fill="#000" stroke="#000" stroke-width="2" stroke-linejoin="round"/>
<path d="M210.4,1220.6 V1374" fill="none" stroke="#000" stroke-width="5" />
<path d="M210.4,1381 L202.4,1373 L218.4,1373 Z" fill="#000" stroke="#000" stroke-width="2" stroke-linejoin="round"/>
<path d="M210.4,1213.6 L202.4,1221.6 L218.4,1221.6 Z" fill="#000" stroke="#000" stroke-width="2" stroke-linejoin="round"/>
<text transform="translate(234.00,1153.60) scale(1.0813,1)" x="-0.79" y="0" font-size="19.62" fill="#111">5mm</text>
<text transform="translate(299.10,1202.60) scale(1.0813,1)" x="-0.79" y="0" font-size="19.62" fill="#111">5mm</text>
<text transform="translate(145.00,1309.70) scale(1.1065,1)" x="-0.99" y="0" font-size="19.62" fill="#111">25mm</text>
<g fill="none" stroke="#000" stroke-width="2" stroke-linejoin="round" stroke-linecap="round"><path fill="#fff" d="M95.9,1392.7 L118.6,1400.5  C124.2,1400.0 140.3,1398.3 152.1,1397.4 C163.9,1396.5 178.5,1395.5 189.4,1395.2 C200.3,1394.9 209.8,1396.7 217.4,1395.5 C225.0,1394.3 229.6,1389.8 235.0,1388.0 C240.4,1386.2 245.2,1385.3 249.7,1384.9 C254.2,1384.5 255.9,1385.5 262.1,1385.8 C268.3,1386.1 279.0,1386.8 287.0,1386.8 C295.0,1386.8 303.2,1385.7 310.0,1385.7 C316.8,1385.7 321.9,1386.5 327.9,1386.6 C333.8,1386.6 338.8,1385.6 345.7,1386.0 C352.6,1386.4 361.6,1388.2 369.5,1389.0 C377.4,1389.8 385.6,1389.6 393.3,1391.1 C401.1,1392.6 412.2,1397.0 416.0,1398.2 L410.6,1406.5 L402.9,1415.5 L396.9,1423.8  C392.3,1423.5 376.1,1422.7 369.5,1422.0 C362.9,1421.3 361.6,1420.6 357.6,1419.6 C353.6,1418.6 350.6,1416.7 345.7,1416.0 C340.8,1415.3 333.8,1415.9 327.9,1415.5 C321.9,1415.1 316.3,1414.2 310.0,1413.7 C303.7,1413.2 298.0,1412.0 290.0,1412.5 C282.0,1413.0 269.8,1415.9 262.0,1416.6 C254.2,1417.3 249.7,1416.0 243.5,1416.5 C237.3,1417.0 230.4,1418.6 224.8,1419.7 C219.2,1420.8 215.9,1421.9 210.0,1422.9 C204.1,1424.0 197.0,1425.4 189.4,1426.0 C181.8,1426.6 170.7,1426.3 164.5,1426.5 C158.3,1426.7 156.2,1427.5 152.1,1427.2 C148.0,1426.9 143.8,1425.4 139.7,1424.7 C135.6,1424.0 130.9,1422.9 127.3,1422.9 C123.7,1422.9 119.8,1424.4 118.3,1424.7 L102.4,1404.2 Z"/><path d="M118.6,1400.5 C121.1,1401.4 126.9,1403.8 133.5,1406.1 C140.1,1408.4 151.1,1412.3 158.3,1414.2 C165.6,1416.1 168.4,1416.5 177.0,1417.3 C185.6,1418.1 198.9,1419.2 210.0,1419.1 C221.1,1419.0 237.9,1416.9 243.5,1416.5"/><path d="M129.8,1405.5 C133.5,1405.5 142.2,1405.2 152.1,1405.2 C162.0,1405.2 179.8,1405.2 189.4,1405.5 C199.1,1405.8 201.0,1405.2 210.0,1406.7 C219.0,1408.2 234.8,1413.1 243.5,1414.7 C252.2,1416.3 255.9,1416.6 262.1,1416.6 C268.3,1416.6 276.4,1415.6 280.7,1414.7 C285.0,1413.8 286.9,1411.6 288.2,1411.0"/><path d="M102.4,1404.2 C106.6,1406.0 120.0,1411.8 127.3,1414.8 C134.6,1417.8 139.7,1420.2 145.9,1422.2 C152.1,1424.2 161.4,1425.8 164.5,1426.5"/><path d="M218.6,1396.0 C223.8,1397.5 240.4,1403.1 249.7,1404.8 C259.0,1406.5 268.1,1405.0 274.5,1406.0 C280.9,1407.0 285.9,1410.2 288.2,1411.0"/><path d="M224.8,1393.6 C227.9,1393.6 238.3,1393.1 243.5,1393.6 C248.7,1394.1 250.7,1394.8 255.9,1396.7 C261.1,1398.6 268.8,1402.5 274.5,1404.8 C280.2,1407.1 284.8,1409.1 290.0,1410.4 C295.2,1411.8 300.6,1412.3 305.6,1412.9 C310.6,1413.5 313.3,1413.6 320.0,1414.1 C326.7,1414.6 341.4,1415.7 345.7,1416.0"/><path d="M258.4,1381.2 C261.1,1382.8 267.7,1387.0 274.5,1390.5 C281.3,1394.0 291.8,1399.4 299.4,1402.3 C307.0,1405.2 312.3,1405.7 320.0,1407.9 C327.7,1410.1 337.4,1413.2 345.7,1415.5 C353.9,1417.8 365.5,1420.9 369.5,1422.0"/><path d="M267.1,1381.2 C270.4,1382.1 283.7,1385.9 287.0,1386.8"/><path d="M287.0,1396.0 C290.8,1396.8 301.2,1398.5 310.0,1400.6 C318.8,1402.6 330.4,1406.6 339.8,1408.3 C349.2,1410.0 358.4,1410.5 366.5,1410.7 C374.6,1410.9 382.5,1408.7 388.6,1409.5 C394.7,1410.3 400.5,1414.5 402.9,1415.5"/><path d="M293.2,1388.0 C296.0,1388.6 303.2,1389.9 310.0,1391.7 C316.8,1393.5 325.9,1396.2 333.8,1398.8 C341.7,1401.4 349.7,1404.6 357.6,1407.1 C365.5,1409.6 373.8,1412.3 381.4,1413.7 C388.9,1415.1 399.3,1415.2 402.9,1415.5"/><path d="M330.2,1387.5 C333.8,1388.6 345.1,1392.1 351.7,1394.0 C358.2,1395.9 363.6,1396.8 369.5,1398.8 C375.4,1400.8 381.8,1403.2 387.4,1406.0 C393.0,1408.8 400.3,1413.9 402.9,1415.5"/><path d="M373.1,1389.9 C376.5,1391.0 387.1,1393.6 393.3,1396.4 C399.6,1399.2 407.7,1404.8 410.6,1406.5"/><path d="M366.5,1410.1 C372.0,1411.0 393.8,1414.6 399.3,1415.5"/><path d="M244.7,1379.5 C244.8,1380.5 245.4,1384.5 245.5,1385.5"/></g>
<text transform="translate(1562.30,1040.30) scale(1.0568,1)" x="-1.82" y="0" font-size="40.12" fill="#111">Spațiere</text>
<path d="M1446.5,1166.8 L1233.4,1196.1 L1446.5,1207.1" fill="none" stroke="#000" stroke-width="2" />
<text transform="translate(1166.30,1200.30) scale(1.0444,1)" x="-1.21" y="0" font-size="25.87" fill="#111">9cm</text>
<path d="M1851.6,1116.5 V1493.0" fill="none" stroke="#000" stroke-width="9" />
<path d="M1851.6,1502.5 L1840.6,1492.0 L1862.6,1492.0 Z" fill="#000" stroke="#000" stroke-width="2" stroke-linejoin="round"/>
<path d="M1851.6,1107 L1840.6,1117.5 L1862.6,1117.5 Z" fill="#000" stroke="#000" stroke-width="2" stroke-linejoin="round"/>
<text transform="translate(1880.70,1299.20) scale(1.0292,1)" x="-1.01" y="0" font-size="25.87" fill="#111">0,7m</text>
<path d="M1665.7,1390.2 H1713" fill="none" stroke="#000" stroke-width="7.5" />
<path d="M1721,1390.2 L1712,1381.2 L1712,1399.2 Z" fill="#000" stroke="#000" stroke-width="2" stroke-linejoin="round"/>
<path d="M1657.7,1390.2 L1666.7,1381.2 L1666.7,1399.2 Z" fill="#000" stroke="#000" stroke-width="2" stroke-linejoin="round"/>
<text transform="translate(1660.30,1429.80) scale(1.0857,1)" x="-1.85" y="0" font-size="24.27" fill="#111">16cm</text>
<text transform="translate(213.30,1633.00) scale(0.9703,1)" x="-0.70" y="0" font-size="43.17" fill="#111">*Dimensiunile produsului sunt aproximative și variază din cauza îndoiturilor din cablu.</text>
</svg>
</body></html>
